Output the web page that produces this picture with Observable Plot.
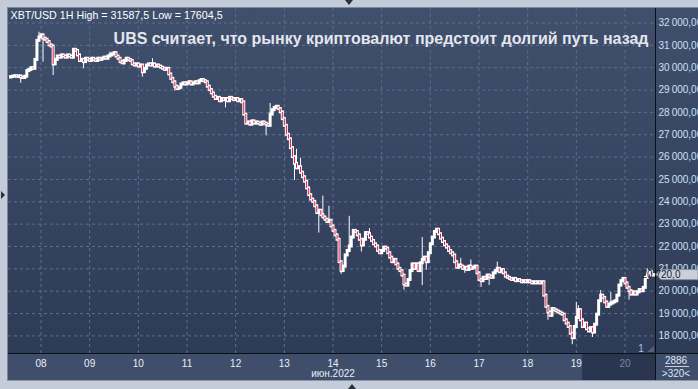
<!DOCTYPE html>
<html><head><meta charset="utf-8">
<script src="https://cdn.jsdelivr.net/npm/d3@7"></script>
<script src="https://cdn.jsdelivr.net/npm/@observablehq/plot@0.6"></script>
<style>html,body{margin:0;padding:0;background:#c3ccd8;overflow:hidden}#chart svg{display:block}</style>
</head><body><div id="chart"></div>
<script>
// ---- data ----
const infoText = "XBT/USD 1H High = 31587,5 Low = 17604,5";
const titleText = "UBS считает, что рынку криптовалют предстоит долгий путь назад";
const monthLabel = "июн.2022";
const barsTotal = "2886";
const barsVisible = ">320<";
const windowNo = "1";
const lastPrice = 20720;
const lastPriceLabel = "20 720,0";
const startHour = "2022-06-07T09:00:00Z";
const firstOpen = 29560;
// hourly closes
const closes = [
29580,29600,29620,29590,29610,29560,29540,29600,29850,29900,
29980,29950,30350,31200,31350,31450,31300,31250,31150,31000,
30950,30150,30350,30500,30450,30550,30500,30450,30550,30500,
30450,30800,30750,30550,30300,30350,30250,30400,30350,30300,
30400,30350,30300,30400,30350,30400,30450,30400,30500,30550,
30600,30650,30500,30400,30250,30200,30300,30400,30350,30300,
30150,30100,30150,30050,30100,29800,29950,30100,30150,30100,
30150,30050,30100,30050,30000,29950,29900,29950,29700,29500,
29350,29150,29050,29100,29250,29300,29250,29300,29350,29250,
29300,29350,29300,29400,29450,29400,29350,29150,29000,28850,
28700,28600,28650,28500,28600,28550,28600,28500,28650,28600,
28550,28600,28500,28550,28450,27900,27500,27550,27450,27600,
27500,27550,27500,27450,27550,27500,27450,27400,27900,28100,
28200,28250,28150,28000,27700,27400,27000,26800,26400,26000,
25700,25500,25550,25300,25100,24900,24600,24300,24100,24000,
23800,23500,23600,23400,23300,23200,23100,23150,22900,22700,
22500,22300,21300,20900,21100,21600,21800,22000,22400,22700,
22650,22500,22300,22050,22300,22600,22550,22400,22250,22100,
22000,21800,21700,21800,21950,21900,21700,21500,21300,21400,
21200,21000,20900,20700,20300,20250,20500,20900,21200,21000,
21200,20900,21250,21400,21500,21300,21700,22100,22400,22650,
22750,22550,22350,22200,22050,21950,21800,21700,21600,21300,
21050,21150,21100,21000,21050,20950,21100,21000,21050,21100,
20800,20500,20450,20600,20550,20700,20650,20600,20800,20900,
21000,20850,20950,20800,20650,20600,20550,20500,20550,20450,
20500,20450,20400,20450,20400,20450,20400,20350,20400,20350,
20400,20350,20400,19800,19300,19050,18900,19200,19150,19100,
19050,19000,18950,18700,18550,18400,18100,17900,18400,18800,
19150,18700,18400,18550,18300,18200,18350,18150,18500,18950,
19550,19800,19700,19500,19300,19400,19450,19500,19550,19800,
20250,20450,20550,20350,20150,20000,19850,19950,19850,19950,
20050,20000,20150,20600,20800,20850,20700,20720
];
// notable wicks (hour index, high, low)
const spikeIdx  = [5,14,16,21,31,36,49,56,65,70,81,106,126,128,140,141,143,152,154,157,163,167,173,177,194,203,205,222,224,227,232,236,240,265,277,279,280,287,291,296,305,314];
const spikeHigh = [null,31587.5,null,null,30850,null,30700,null,null,30400,null,null,null,28400,null,26350,25950,null,24250,23800,null,23350,null,22800,null,22400,null,21470,null,21400,null,null,21300,null,null,19500,19350,null,20030,19950,null,21000];
const spikeLow  = [29300,null,30250,29650,null,29950,null,30100,29570,null,28950,28200,26950,null,24950,null,null,22600,null,null,20750,null,21750,null,20050,20250,20930,null,20800,null,20170,20250,null,18700,17604.5,null,null,17930,null,null,19600,null];
const dayTicks = ["2022-06-08","2022-06-09","2022-06-10","2022-06-11","2022-06-12","2022-06-13","2022-06-14","2022-06-15","2022-06-16","2022-06-17","2022-06-18","2022-06-19","2022-06-20"];
const dayLabels = ["08","09","10","11","12","13","14","15","16","17","18","19","20"];
const priceTicks = [18000,19000,20000,21000,22000,23000,24000,25000,26000,27000,28000,29000,30000,31000,32000];

// ---- build ----
const t0 = new Date(startHour).getTime();
const candles = closes.map((c, i) => {
  const o = i === 0 ? firstOpen : closes[i - 1];
  let hi = Math.max(o, c), lo = Math.min(o, c);
  const k = spikeIdx.indexOf(i);
  if (k >= 0) {
    if (spikeHigh[k] != null) hi = Math.max(hi, spikeHigh[k]);
    if (spikeLow[k] != null) lo = Math.min(lo, spikeLow[k]);
  }
  return {date: new Date(t0 + i * 3600e3), open: o, close: c, high: hi, low: lo,
          top: Math.max(o, c), bottom: Math.min(o, c), down: c < o};
});
const dayDates = dayTicks.map(s => new Date(s + "T00:00:00Z"));
const dayLabel = d => dayLabels[dayDates.findIndex(t => +t === +d)];
const fmtPrice = v => d3.format(",.2f")(v).replace(/,/g, "\u2009").replace(".", ",");
const W = 698, H = 389, mL = 8, mR = 43, mT = 8, mB = 36;
const gridColor = "#5e6e8c";

const chart = Plot.plot({
  width: W, height: H,
  marginTop: mT, marginBottom: mB, marginLeft: mL, marginRight: mR,
  style: {background: "none", fontFamily: "'Liberation Sans', Arial, sans-serif", overflow: "visible"},
  x: {type: "utc", domain: [dayDates[0], dayDates[12]], range: [40.5, 624.5]},
  y: {domain: [18000, 32000], range: [335.4, 22.5]},
  marks: [
    Plot.gridX(dayDates, {stroke: gridColor, strokeOpacity: 1, strokeDasharray: "3,3"}),
    Plot.gridY(priceTicks, {stroke: gridColor, strokeOpacity: 1, strokeDasharray: "3,3"}),
    Plot.axisY(priceTicks, {anchor: "right", tickSize: 0, tickPadding: 3, tickFormat: fmtPrice, fill: "#cfe0f6", fontSize: 10, label: null}),
    Plot.axisX(dayDates.slice(0, 12), {anchor: "bottom", tickSize: 0, tickPadding: 6, tickFormat: dayLabel, fill: "#e8eef7", fontSize: 10, label: null}),
    Plot.axisX(dayDates.slice(12), {anchor: "bottom", tickSize: 0, tickPadding: 6, tickFormat: dayLabel, fill: "#7c879b", fontSize: 10, label: null}),
    Plot.text([monthLabel], {x: [dayDates[6]], frameAnchor: "bottom", lineAnchor: "middle", dy: 20, fill: "#e8eef7", fontSize: 10}),
    Plot.ruleX(candles, {x: "date", y1: "high", y2: "low", stroke: "white", strokeWidth: 1}),
    Plot.ruleX(candles, {x: "date", y1: "top", y2: "bottom", stroke: "white", strokeWidth: 3, strokeLinecap: "square"}),
    Plot.ruleX(candles.filter(d => d.down), {x: "date", y1: "top", y2: "bottom", stroke: "#e0133d", strokeWidth: 1}),
    Plot.text([infoText], {frameAnchor: "top-left", dx: 2, dy: 3, fill: "#ffffff", fontSize: 10.7, textAnchor: "start"}),
    Plot.text([titleText], {frameAnchor: "top-right", dx: -7, dy: 24.5, fill: "#e3e6ec", fontSize: 16, fontWeight: "bold", textAnchor: "end"})
  ]
});

const svg = d3.select(chart);
// background decorations
const defs = svg.insert("defs", ":first-child");
const grad = defs.append("linearGradient").attr("id", "bg").attr("x1", 0).attr("y1", 0).attr("x2", 0).attr("y2", 1);
grad.append("stop").attr("offset", "0%").attr("stop-color", "#3f4f6c");
grad.append("stop").attr("offset", "100%").attr("stop-color", "#2e3b57");
const bgG = svg.insert("g", "defs + *");
bgG.append("rect").attr("x", 0).attr("y", 0).attr("width", W).attr("height", H).attr("fill", "#c3ccd8");
bgG.append("rect").attr("x", 8).attr("y", 8).attr("width", W - 8).attr("height", 346).attr("fill", "url(#bg)");
bgG.append("rect").attr("x", 8).attr("y", 354).attr("width", W - 8).attr("height", 26).attr("fill", "#3f4e6a");
bgG.append("rect").attr("x", 582).attr("y", 354).attr("width", 73).attr("height", 26).attr("fill", "#2a3650");
bgG.append("line").attr("x1", 7.5).attr("x2", 7.5).attr("y1", 7).attr("y2", 381).attr("stroke", "#7f8898");
bgG.append("line").attr("x1", 7).attr("x2", W).attr("y1", 7.5).attr("y2", 7.5).attr("stroke", "#7f8898");
bgG.append("line").attr("x1", 7).attr("x2", W).attr("y1", 380.5).attr("y2", 380.5).attr("stroke", "#8d96a6");
bgG.append("line").attr("x1", 655.5).attr("x2", 655.5).attr("y1", 8).attr("y2", 380).attr("stroke", "#0c0f16");
bgG.append("line").attr("x1", 8).attr("x2", W).attr("y1", 353.5).attr("y2", 353.5).attr("stroke", "#0c0f16");

// overlay decorations
const ov = svg.append("g").attr("font-family", "'Liberation Sans', Arial, sans-serif");
const yPix = chart.scale("y").apply(lastPrice);
ov.append("path").attr("d", `M656,${yPix} L661,${yPix - 5} L698,${yPix - 5} L698,${yPix + 5} L661,${yPix + 5} Z`)
  .attr("fill", "#c9d0d9").attr("stroke", "#8a93a1");
ov.append("text").attr("x", 661).attr("y", yPix + 3.5).attr("font-size", 10).attr("fill", "#1d2433").text(lastPriceLabel);
ov.append("text").attr("x", 676).attr("y", 364).attr("text-anchor", "middle").attr("font-size", 10).attr("fill", "#dde6f2").text(barsTotal);
ov.append("line").attr("x1", 665).attr("x2", 689).attr("y1", 366.5).attr("y2", 366.5).attr("stroke", "#c6d0de");
ov.append("text").attr("x", 676).attr("y", 377).attr("text-anchor", "middle").attr("font-size", 10).attr("fill", "#dde6f2").text(barsVisible);
ov.append("text").attr("x", 641).attr("y", 352).attr("text-anchor", "middle").attr("font-size", 10).attr("fill", "#9fc3ef").text(windowNo);
ov.append("path").attr("d", "M647,352 L654,352 L654,346 Z").attr("fill", "#56627a");
ov.append("path").attr("d", "M345,0 L353,0 L349,5 Z").attr("fill", "#2b2f38");
ov.append("path").attr("d", "M1,191 L1,199 L5,195 Z").attr("fill", "#2b2f38");
ov.append("path").attr("d", "M348,389 L356,389 L352,384 Z").attr("fill", "#2b2f38");

document.getElementById("chart").appendChild(chart);
</script>
</body></html>
